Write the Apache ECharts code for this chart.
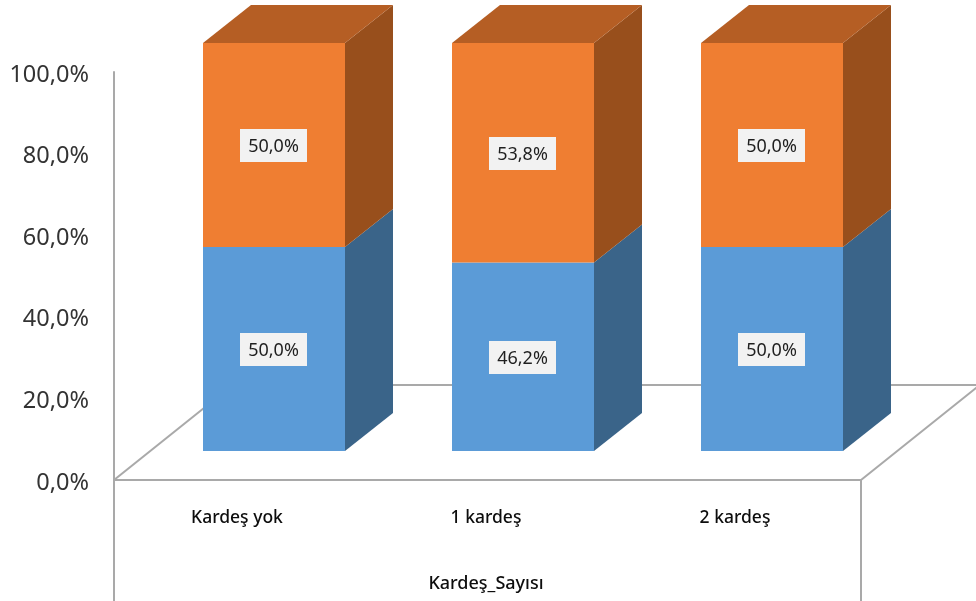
<!DOCTYPE html>
<html><head><meta charset="utf-8">
<style>html,body{margin:0;padding:0;background:#fff}#c{width:976px;height:601px}</style>
<script src="https://cdn.jsdelivr.net/npm/echarts@6/dist/echarts.min.js"></script>
</head><body><div id="c"></div>
<script>
var categories = ['Kardeş yok', '1 kardeş', '2 kardeş'];
var blueValues = [50.0, 46.2, 50.0];
var orangeValues = [50.0, 53.8, 50.0];
var yTicks = [0, 20, 40, 60, 80, 100];
var axisTitle = 'Kardeş_Sayısı';

// Oblique-projection style constants (px)
var FLOOR_DX = 35.5, FLOOR_DY = -29, DEPTH_DX = 48, DEPTH_DY = -38, BAR_RATIO = 142 / 249;
var LINE = '#a9a9a9';
var font = '"Noto Sans", sans-serif';

function fmt(v) { return v.toFixed(1).replace('.', ',') + '%'; }

function boxItem(front, side, top, showTop) {
  return function (params, api) {
    var c = api.value(0), lo = api.value(1), hi = api.value(2);
    var p0 = api.coord([c, lo]), p1 = api.coord([c, hi]);
    var w = api.size([1, 0])[0] * BAR_RATIO;
    var x0 = Math.round(p0[0] + FLOOR_DX - w / 2), x1 = x0 + w;
    var yB = p0[1] + FLOOR_DY, yT = p1[1] + FLOOR_DY;
    var kids = [
      { type: 'polygon', shape: { points: [[x1, yB], [x1 + DEPTH_DX, yB + DEPTH_DY], [x1 + DEPTH_DX, yT + DEPTH_DY], [x1, yT]] }, style: { fill: side } },
      { type: 'rect', shape: { x: x0, y: yT, width: w, height: yB - yT }, style: { fill: front } }
    ];
    if (showTop) kids.push({ type: 'polygon', shape: { points: [[x0, yT], [x1, yT], [x1 + DEPTH_DX, yT + DEPTH_DY], [x0 + DEPTH_DX, yT + DEPTH_DY]] }, style: { fill: top } });
    var cx = Math.round((x0 + x1) / 2), cy = Math.round((yT + yB) / 2);
    kids.push({ type: 'rect', shape: { x: cx - 34, y: cy - 16, width: 67, height: 33 }, style: { fill: '#f2f2f2' } });
    kids.push({ type: 'text', x: cx - 0.5, y: cy + 2, style: { text: fmt(hi - lo), font: '18px ' + font, fill: '#1f1f1f', align: 'center', verticalAlign: 'middle' } });
    return { type: 'group', children: kids };
  };
}

var blueData = categories.map(function (_, i) { return [i, 0, blueValues[i]]; });
var orangeData = categories.map(function (_, i) { return [i, blueValues[i], blueValues[i] + orangeValues[i]]; });

function frameItem(params, api) {
  var o = api.coord([0, 0]);
  var w = api.size([1, 0])[0];
  var left = o[0] - w / 2, right = left + w * categories.length, y = o[1];
  var backY = y - 95, s = { stroke: LINE, lineWidth: 2, fill: null };
  function ln(a, b, c, d) { return { type: 'line', shape: { x1: a, y1: b, x2: c, y2: d }, style: s }; }
  return { type: 'group', children: [
    ln(left, y, left + 95 / 0.8, backY),
    ln(left + 95 / 0.8, backY, 976, backY),
    ln(right, y, right + 95 / 0.8, backY),
    ln(left, y, left, 601),
    ln(right, y, right, 601)
  ] };
}

var chart = echarts.init(document.getElementById('c'), null, { renderer: 'canvas' });
chart.setOption({
  animation: false,
  backgroundColor: '#fff',
  grid: { left: 114, right: 115, top: 72, bottom: 121, containLabel: false },
  xAxis: {
    type: 'category', data: categories,
    axisLine: { show: true, lineStyle: { color: LINE, width: 2 } }, axisTick: { show: false },
    axisLabel: { color: '#0d0d0d', fontFamily: font, fontSize: 17.5, fontWeight: 500, margin: 29, padding: [0, 3, 0, 0] },
    name: axisTitle, nameLocation: 'middle', nameGap: 95,
    nameTextStyle: { color: '#0d0d0d', fontFamily: font, fontSize: 18, fontWeight: 500, padding: [0, 3, 0, 0] }
  },
  yAxis: {
    type: 'value', min: 0, max: 100, interval: 20,
    axisLine: { show: true, lineStyle: { color: LINE, width: 2 } }, axisTick: { show: false },
    splitLine: { show: false },
    axisLabel: { color: '#333', fontFamily: font, fontSize: 23.5, margin: 25, verticalAlign: 'top', lineHeight: 28, padding: [-11, 0, 0, 0], formatter: function (v) { return fmt(v); } }
  },
  series: [
    { type: 'custom', name: 'frame', silent: true, clip: false, z: 1, data: [[0, 0, 0]], encode: { x: 0, y: 1 }, renderItem: frameItem },
    { type: 'custom', name: 'Mavi', clip: false, z: 3, data: blueData, encode: { x: 0, y: [1, 2] }, renderItem: boxItem('#5b9bd7', '#3a6489', null, false) },
    { type: 'custom', name: 'Turuncu', clip: false, z: 3, data: orangeData, encode: { x: 0, y: [1, 2] }, renderItem: boxItem('#ef7e32', '#984f1c', '#b55e24', true) }
  ]
});
</script></body></html>
